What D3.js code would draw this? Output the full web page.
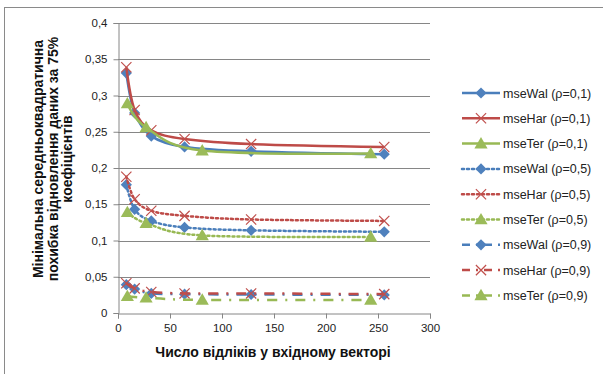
<!DOCTYPE html>
<html>
<head>
<meta charset="utf-8">
<script src="https://cdn.jsdelivr.net/npm/d3@7"></script>
<style>
  body { margin: 0; background: #fff; }
  svg { display: block; font-family: "Liberation Sans", Arial, sans-serif; }
</style>
</head>
<body>
<div id="chart"></div>
<script>
// ---------------------------------------------------------------------------
// DATA
// ---------------------------------------------------------------------------

// sample counts: powers of two for Wal / Har, powers of three for Ter
const xPow2 = [8, 16, 32, 64, 128, 256];
const xPow3 = [9, 27, 81, 243];

const walR1 = [0.331, 0.276, 0.244, 0.229, 0.223, 0.219];
const harR1 = [0.339, 0.280, 0.252, 0.240, 0.233, 0.229];
const terR1 = [0.289, 0.256, 0.224, 0.220];

const walR5 = [0.177, 0.143, 0.127, 0.118, 0.114, 0.112];
const harR5 = [0.188, 0.157, 0.141, 0.134, 0.129, 0.127];
const terR5 = [0.139, 0.124, 0.107, 0.105];

const walR9 = [0.039, 0.033, 0.027, 0.026, 0.0255, 0.025];
const harR9 = [0.041, 0.034, 0.029, 0.027, 0.027, 0.026];
const terR9 = [0.023, 0.021, 0.018, 0.018];

const seriesNames = [
    "mseWal (ρ=0,1)", "mseHar (ρ=0,1)", "mseTer (ρ=0,1)",
    "mseWal (ρ=0,5)", "mseHar (ρ=0,5)", "mseTer  (ρ=0,5)",
    "mseWal (ρ=0,9)", "mseHar (ρ=0,9)", "mseTer (ρ=0,9)"
];

const yTicks = [0, 0.05, 0.1, 0.15, 0.2, 0.25, 0.3, 0.35, 0.4];
const xTicks = [0, 50, 100, 150, 200, 250, 300];

const yTitleLines = [
    "Мінімальна середньоквадратична",
    "похибка відновлення даних за 75%",
    "коефіцієнтів"
];
const xTitle = "Число відліків у вхідному векторі";


// ---------------------------------------------------------------------------
// STYLES PER SERIES
// ---------------------------------------------------------------------------

const COLORS = { wal: "#4a7ebb", har: "#be4b48", ter: "#98b954" };
const DASH   = { solid: null, dot: "2,3", dashdot: "10,8,2,8" };

const series = [
    { x: xPow2, y: walR1, kind: "wal", dash: "solid" },
    { x: xPow2, y: harR1, kind: "har", dash: "solid" },
    { x: xPow3, y: terR1, kind: "ter", dash: "solid" },
    { x: xPow2, y: walR5, kind: "wal", dash: "dot" },
    { x: xPow2, y: harR5, kind: "har", dash: "dot" },
    { x: xPow3, y: terR5, kind: "ter", dash: "dot" },
    { x: xPow2, y: walR9, kind: "wal", dash: "dashdot" },
    { x: xPow2, y: harR9, kind: "har", dash: "dashdot" },
    { x: xPow3, y: terR9, kind: "ter", dash: "dashdot" }
].map((s, i) => ({ ...s, name: seriesNames[i] }));


// ---------------------------------------------------------------------------
// SETUP
// ---------------------------------------------------------------------------

const W = 603, H = 374;
const plot = { left: 118, right: 430, top: 23, bottom: 313 };

const svg = d3.select("#chart")
    .append("svg")
    .attr("width", W)
    .attr("height", H);

// outer chart border (runs off the right / bottom edge)
svg.append("rect")
    .attr("x", 4.5).attr("y", 7.5)
    .attr("width", W + 10).attr("height", H + 10)
    .attr("fill", "none")
    .attr("stroke", "#8a8a8a");

const x = d3.scaleLinear().domain([0, 300]).range([plot.left, plot.right]);
const y = d3.scaleLinear().domain([0, 0.4]).range([plot.bottom, plot.top]);

const fmt = v => String(+v.toFixed(2)).replace(".", ",");

// gridlines
svg.append("g")
    .selectAll("line")
    .data(yTicks.filter(d => d > 0))
    .join("line")
    .attr("x1", plot.left).attr("x2", plot.right)
    .attr("y1", d => Math.round(y(d)) + 0.5)
    .attr("y2", d => Math.round(y(d)) + 0.5)
    .attr("stroke", "#868686");

// axes
const yAxis = svg.append("g")
    .attr("transform", `translate(${plot.left + 0.5},0)`)
    .call(d3.axisLeft(y).tickValues(yTicks).tickFormat(fmt).tickSize(5).tickPadding(6));

const xAxis = svg.append("g")
    .attr("transform", `translate(0,${plot.bottom + 0.5})`)
    .call(d3.axisBottom(x).tickValues(xTicks).tickFormat(d3.format("d")).tickSize(5).tickPadding(5));

[yAxis, xAxis].forEach(a => {
    a.select(".domain").attr("stroke", "#868686");
    a.selectAll(".tick line").attr("stroke", "#868686");
    a.selectAll(".tick text")
        .attr("fill", "#222")
        .style("font-size", "11.5px")
        .style("font-family", "'Liberation Sans', Arial, sans-serif");
});

// axis titles
svg.append("text")
    .attr("x", (plot.left + plot.right) / 2 - 1)
    .attr("y", 357)
    .attr("text-anchor", "middle")
    .style("font-size", "14px")
    .style("font-weight", "bold")
    .attr("fill", "#111")
    .text(xTitle);

const yTitle = svg.append("text")
    .attr("transform", "translate(43,159) rotate(-90)")
    .attr("text-anchor", "middle")
    .style("font-size", "14px")
    .style("font-weight", "bold")
    .attr("fill", "#111");

yTitle.selectAll("tspan")
    .data(yTitleLines)
    .join("tspan")
    .attr("x", 0)
    .attr("dy", (d, i) => i === 0 ? 0 : 14.5)
    .text(d => d);


// ---------------------------------------------------------------------------
// MARKERS
// ---------------------------------------------------------------------------

function drawMarker(g, kind, cx, cy) {
    if (kind === "wal") {
        g.append("path")
            .attr("d", d3.symbol(d3.symbolDiamond2, 80)())
            .attr("transform", `translate(${cx},${cy})`)
            .attr("fill", "#4f81bd");
    } else if (kind === "har") {
        g.append("path")
            .attr("d", d3.symbol(d3.symbolX, 70)())
            .attr("transform", `translate(${cx},${cy})`)
            .attr("fill", "none")
            .attr("stroke", "#c0504d")
            .attr("stroke-width", 1.2);
    } else {
        g.append("path")
            .attr("d", d3.symbol(d3.symbolTriangle, 75)())
            .attr("transform", `translate(${cx},${cy + 1})`)
            .attr("fill", "#9bbb59");
    }
}


// ---------------------------------------------------------------------------
// SERIES
// ---------------------------------------------------------------------------

const line = d3.line()
    .x(d => x(d[0]))
    .y(d => y(d[1]))
    .curve(d3.curveCatmullRom.alpha(0));

const seriesG = svg.append("g");

series.forEach(s => {
    const pts = s.x.map((v, i) => [v, s.y[i]]);
    const g = seriesG.append("g");
    g.append("path")
        .datum(pts)
        .attr("d", line)
        .attr("fill", "none")
        .attr("stroke", COLORS[s.kind])
        .attr("stroke-width", 2.5)
        .attr("stroke-dasharray", DASH[s.dash])
        .attr("stroke-linecap", s.dash === "dot" ? "round" : "butt");
    pts.forEach(p => drawMarker(g, s.kind, x(p[0]), y(p[1])));
});


// ---------------------------------------------------------------------------
// LEGEND
// ---------------------------------------------------------------------------

const legend = svg.append("g");
const legX0 = 462, legX1 = 500, legY0 = 93, legStep = 25.3;

series.forEach((s, i) => {
    const ly = legY0 + i * legStep;
    const g = legend.append("g");
    g.append("line")
        .attr("x1", legX0).attr("x2", legX1)
        .attr("y1", ly).attr("y2", ly)
        .attr("stroke", COLORS[s.kind])
        .attr("stroke-width", 2.5)
        .attr("stroke-dasharray", s.dash === "dashdot" ? "8,6,2,6" : DASH[s.dash])
        .attr("stroke-linecap", s.dash === "dot" ? "round" : "butt");
    drawMarker(g, s.kind, (legX0 + legX1) / 2, ly);
    g.append("text")
        .attr("x", legX1 + 3)
        .attr("y", ly + 4.5)
        .style("font-size", "12.5px")
        .attr("fill", "#222")
        .text(s.name);
});
</script>
</body>
</html>
